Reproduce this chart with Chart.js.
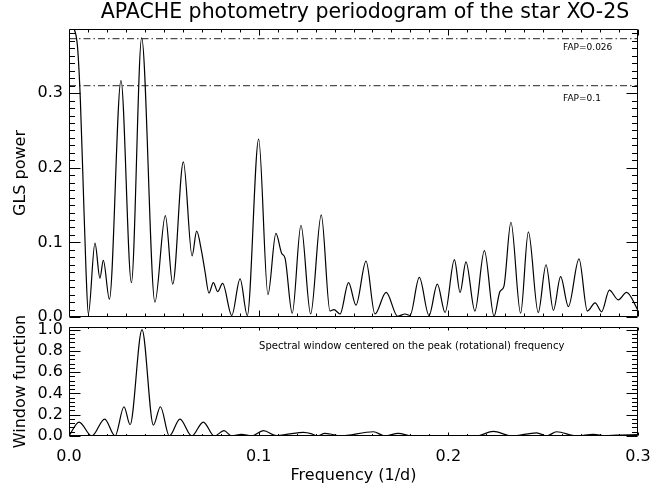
<!DOCTYPE html>
<html><head><meta charset="utf-8">
<script src="https://cdn.jsdelivr.net/npm/chart.js@4.4.0/dist/chart.umd.min.js"></script>
<style>
html,body{margin:0;padding:0;background:#fff;}
#wrap{position:relative;width:670px;height:488px;background:#fff;}
canvas{position:absolute;left:0;top:0;}
</style>
</head><body>
<div id="wrap"><canvas id="c1" width="670" height="488"></canvas><canvas id="c2" width="670" height="488"></canvas></div>
<script>
// ---------- data ----------
const chartTitle = 'APACHE photometry periodogram of the star XO-2S';
const topYTitle = 'GLS power';
const bottomYTitle = 'Window function';
const xTitle = 'Frequency (1/d)';

const glsFreq = [0.0000,0.0015,0.0030,0.0045,0.0060,0.0075,0.0090,0.0102,0.0137,0.0163,0.0181,0.0213,0.0274,0.0329,0.0383,0.0453,0.0508,0.0547,0.0603,0.0649,0.0673,0.0699,0.0717,0.0738,0.0761,0.0784,0.0810,0.0858,0.0902,0.0940,0.1000,0.1049,0.1091,0.1121,0.1139,0.1177,0.1223,0.1274,0.1330,0.1376,0.1397,0.1429,0.1474,0.1513,0.1566,0.1613,0.1672,0.1733,0.1772,0.1798,0.1847,0.1898,0.1942,0.1983,0.2032,0.2062,0.2093,0.2140,0.2190,0.2241,0.2272,0.2293,0.2330,0.2381,0.2422,0.2474,0.2515,0.2554,0.2592,0.2633,0.2689,0.2733,0.2774,0.2808,0.2849,0.2896,0.2940,0.3000];
const glsPower = [0.390,0.389,0.384,0.362,0.290,0.175,0.060,0.004,0.099,0.052,0.076,0.024,0.317,0.046,0.374,0.020,0.136,0.044,0.208,0.082,0.115,0.088,0.061,0.032,0.046,0.034,0.045,0.002,0.051,0.002,0.2385,0.030,0.112,0.0855,0.079,0.005,0.123,0.004,0.137,0.008,0.010,0.004,0.046,0.016,0.075,0.004,0.033,0.001,0.004,0.002,0.053,0.002,0.044,0.006,0.077,0.033,0.074,0.008,0.089,0.001,0.034,0.041,0.127,0.005,0.114,0.006,0.070,0.009,0.054,0.014,0.078,0.008,0.019,0.007,0.036,0.023,0.033,0.009];

const winFreq = [0.0000,0.0053,0.0120,0.0188,0.0243,0.0290,0.0322,0.0385,0.0445,0.0482,0.0529,0.0585,0.0647,0.0708,0.0766,0.0817,0.0858,0.0910,0.0963,0.1025,0.1095,0.1165,0.1235,0.1280,0.1306,0.1350,0.1376,0.1429,0.1605,0.1666,0.1736,0.1806,0.2000,0.2149,0.2237,0.2334,0.2466,0.2518,0.2571,0.2677,0.2765,0.2830,0.2888,0.3000];
const winPower = [0.000,0.131,0.000,0.159,0.000,0.275,0.106,1.000,0.103,0.275,0.000,0.159,0.000,0.131,0.000,0.050,0.000,0.016,0.000,0.050,0.003,0.020,0.034,0.020,0.000,0.025,0.019,0.000,0.040,0.000,0.025,0.000,0.004,0.000,0.044,0.000,0.030,0.000,0.040,0.000,0.016,0.003,0.009,0.012];

const fapLevels = [0.373, 0.310];
const fapLabels = ['FAP=0.026', 'FAP=0.1'];
const fapLabelY = [0.361, 0.292];
const fapLabelX = 0.2605;

const windowNote = 'Spectral window centered on the peak (rotational) frequency';
const windowNoteX = 0.1002;
const windowNoteY = 0.838;

const xRange = [0, 0.3];
const topYRange = [0, 0.386];
const bottomYRange = [0, 1.025];

// ---------- helpers ----------
Chart.defaults.font.family = "'DejaVu Sans', sans-serif";
Chart.defaults.color = '#000';

function pts(xs, ys){ return xs.map((x,i)=>({x:x, y:ys[i]})); }

function frameTicks(cfg){
  return { id:'frameTicks', afterDraw(chart){
    const {ctx, chartArea:a, scales} = chart;
    const xs = scales.x, ys = scales.y;
    const L = Math.round(a.left)+0.5, R = Math.round(a.right)-0.5;
    const T = Math.round(a.top)+0.5, B = Math.round(a.bottom)-0.5;
    ctx.save();
    ctx.strokeStyle = '#000'; ctx.lineWidth = 1;
    ctx.beginPath(); ctx.rect(L, T, R-L, B-T); ctx.stroke();
    ctx.beginPath();
    const ny = Math.round((ys.max - ys.min)/cfg.yMinor + 1e-6);
    for (let i=0;i<=ny;i++){
      const v = ys.min + i*cfg.yMinor;
      if (v > ys.max + 1e-9) break;
      const r = v/cfg.yMajor, isMaj = Math.abs(r-Math.round(r))<1e-6;
      const len = isMaj ? cfg.yLen : cfg.yLen/2;
      const py = Math.round(ys.getPixelForValue(v))+0.5;
      ctx.moveTo(L,py); ctx.lineTo(L+len,py);
      ctx.moveTo(R,py); ctx.lineTo(R-len,py);
    }
    const nx = Math.round((xs.max - xs.min)/cfg.xMinor + 1e-6);
    for (let i=0;i<=nx;i++){
      const v = xs.min + i*cfg.xMinor;
      const r = v/cfg.xMajor, isMaj = Math.abs(r-Math.round(r))<1e-6;
      const len = isMaj ? cfg.xLen : cfg.xLen/2;
      const px = Math.round(xs.getPixelForValue(v))+0.5;
      ctx.moveTo(px,B); ctx.lineTo(px,B-len);
      ctx.moveTo(px,T); ctx.lineTo(px,T+len);
    }
    ctx.stroke();
    // annotations
    (cfg.notes||[]).forEach(n=>{
      ctx.font = n.font; ctx.fillStyle = '#000';
      ctx.textAlign = 'left'; ctx.textBaseline = 'middle';
      ctx.fillText(n.text, xs.getPixelForValue(n.x), ys.getPixelForValue(n.y));
    });
    if (cfg.title){
      ctx.font = cfg.title.font; ctx.fillStyle = '#000';
      ctx.textAlign = 'center'; ctx.textBaseline = 'middle';
      ctx.fillText(cfg.title.text, cfg.title.cx, cfg.title.cy);
    }
    ctx.restore();
  }};
}

// ---------- top panel ----------
const topDatasets = [{
  data: pts(glsFreq, glsPower), borderColor:'#000', borderWidth:1.2, pointRadius:0,
  cubicInterpolationMode:'monotone', fill:false
}];
fapLevels.forEach(l=>{
  topDatasets.push({ data:[{x:xRange[0],y:l},{x:xRange[1],y:l}], borderColor:'#222', borderWidth:1,
    borderDash:[7,3,1.5,3], pointRadius:0, fill:false });
});

new Chart(document.getElementById('c1'), {
  type:'line',
  data:{ datasets: topDatasets },
  options:{
    responsive:false, animation:false, events:[],
    layout:{ padding:{ left:0, right:32, top:29, bottom:171 } },
    plugins:{ legend:{display:false}, tooltip:{enabled:false}, title:{display:false} },
    scales:{
      x:{ type:'linear', min:xRange[0], max:xRange[1],
        ticks:{display:false}, grid:{display:false, drawTicks:false}, border:{display:false},
        afterFit(s){ s.height = 0; } },
      y:{ type:'linear', min:topYRange[0], max:topYRange[1],
        ticks:{ stepSize:0.1, includeBounds:false, autoSkip:false, padding:6, color:'#000',
          font:{size:16}, callback:v=>Number(v).toFixed(1) },
        grid:{display:false, drawTicks:false}, border:{display:false},
        title:{ display:true, text:topYTitle, color:'#000', font:{size:16}, padding:{top:11,bottom:0} },
        afterFit(s){ s.width = 69; } }
    }
  },
  plugins:[frameTicks({ yMajor:0.1, yMinor:0.01, yLen:11, xMajor:0.1, xMinor:0.01, xLen:6,
    title:{ text:chartTitle, font:"20.5px 'DejaVu Sans'", cx:365, cy:13 },
    notes: fapLabels.map((t,i)=>({text:t, x:fapLabelX, y:fapLabelY[i], font:"9px 'DejaVu Sans'"})) })]
});

// ---------- bottom panel ----------
new Chart(document.getElementById('c2'), {
  type:'line',
  data:{ datasets:[{
    data: pts(winFreq, winPower), borderColor:'#000', borderWidth:1.2, pointRadius:0,
    cubicInterpolationMode:'monotone', fill:false }] },
  options:{
    responsive:false, animation:false, events:[],
    layout:{ padding:{ left:0, right:32, top:327, bottom:0 } },
    plugins:{ legend:{display:false}, tooltip:{enabled:false}, title:{display:false} },
    scales:{
      x:{ type:'linear', min:xRange[0], max:xRange[1],
        ticks:{ stepSize:0.1, padding:11, color:'#000', font:{size:16}, maxRotation:0, autoSkip:false,
          callback:v=>Number(v).toFixed(1) },
        grid:{display:false, drawTicks:false}, border:{display:false},
        title:{ display:true, text:xTitle, color:'#000', font:{size:16}, padding:{top:0,bottom:3} },
        afterFit(s){ s.height = 52; } },
      y:{ type:'linear', min:bottomYRange[0], max:bottomYRange[1],
        ticks:{ stepSize:0.2, includeBounds:false, autoSkip:false, padding:6, color:'#000',
          font:{size:16}, callback:v=>Number(v).toFixed(1) },
        grid:{display:false, drawTicks:false}, border:{display:false},
        title:{ display:true, text:bottomYTitle, color:'#000', font:{size:16}, padding:{top:11,bottom:0} },
        afterFit(s){ s.width = 69; } }
    }
  },
  plugins:[frameTicks({ yMajor:0.2, yMinor:0.04, yLen:11, xMajor:0.1, xMinor:0.01, xLen:3,
    notes:[{text:windowNote, x:windowNoteX, y:windowNoteY, font:"10px 'DejaVu Sans'"}] })]
});
</script>
</body></html>
